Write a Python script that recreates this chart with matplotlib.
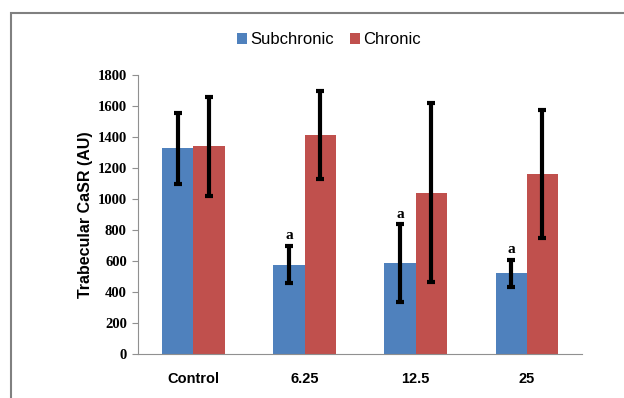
import numpy as np
import matplotlib.pyplot as plt
from matplotlib.patches import Rectangle

# Values
categories = ["Control", "6.25", "12.5", "25"]
subchronic = [1325, 575, 585, 520]
subchronic_err = [230, 120, 250, 88]
chronic = [1340, 1410, 1040, 1160]
chronic_err = [320, 285, 575, 415]
sig_marks = ["", "a", "a", "a"]

blue = "#4F81BD"
red = "#C0504D"

fig = plt.figure(figsize=(6.24, 3.98), dpi=100)
# outer frame (left and top visible)
fig.patches.append(Rectangle((11 / 624, -0.05), 1.0, 1 - 13 / 398 + 0.05,
                             transform=fig.transFigure, fill=False,
                             edgecolor="#808080", linewidth=1.5))

ax = fig.add_axes([0.221, 0.111, 0.712, 0.701])
x = np.arange(len(categories))
w = 0.28
err_kw = dict(ecolor="black", elinewidth=3, capsize=3, capthick=3)
ax.bar(x - w / 2, subchronic, w, color=blue, label="Subchronic",
       yerr=subchronic_err, error_kw=err_kw)
ax.bar(x + w / 2, chronic, w, color=red, label="Chronic",
       yerr=chronic_err, error_kw=err_kw)

for i, m in enumerate(sig_marks):
    if m:
        ax.text(x[i] - w / 2, subchronic[i] + subchronic_err[i] + 25, m,
                ha="center", va="bottom", fontsize=11, fontweight="bold",
                family="Liberation Serif")

ax.set_xlim(-0.5, 3.5)
ax.set_ylim(0, 1800)
ax.set_yticks(range(0, 1801, 200))
ax.set_xticks(x)
ax.set_xticklabels(categories, fontsize=10.5, fontweight="bold",
                   family="Liberation Sans")
for lab in ax.get_yticklabels():
    lab.set_family("Liberation Serif")
    lab.set_fontweight("bold")
    lab.set_fontsize(10.5)
ax.tick_params(axis="x", length=0, pad=13)
ax.tick_params(axis="y", length=4, color="#909090", pad=4)
for s in ["top", "right"]:
    ax.spines[s].set_visible(False)
for s in ["left", "bottom"]:
    ax.spines[s].set_color("#909090")
ax.set_ylabel("Trabecular CaSR (AU)", fontsize=11.5, fontweight="bold",
              family="Liberation Sans", labelpad=3)

fig.legend(loc="center", bbox_to_anchor=(0.527, 0.9), ncol=2, frameon=False,
           handlelength=0.6, handleheight=0.6, handletextpad=0.2,
           columnspacing=1.0, prop={"family": "Liberation Sans", "size": 12})

fig.savefig("out.png", dpi=100)
